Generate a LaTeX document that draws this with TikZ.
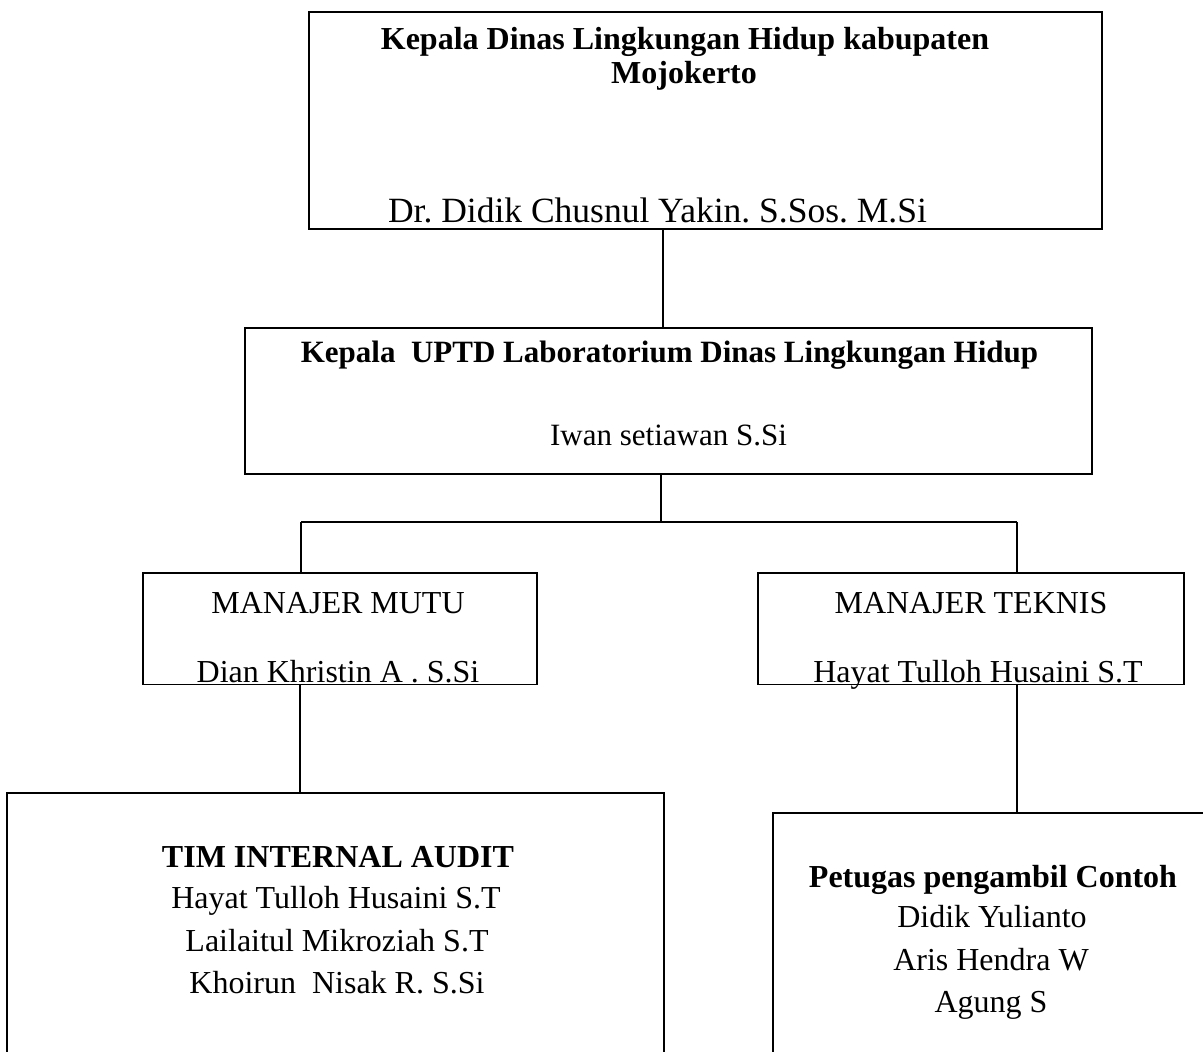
\documentclass[tikz,border=0pt]{standalone}
\usepackage{fontspec}
\setmainfont{Liberation Serif}
\begin{document}
\frenchspacing
\begin{tikzpicture}[x=1pt,y=-1pt]
\tikzset{
  box/.style={draw=black,line width=1.4pt,rectangle,inner sep=0pt},
  conn/.style={draw=black,line width=1.1pt},
  txt/.style={anchor=base,inner sep=0pt,font=\fontsize{32}{38}\selectfont},
  btxt/.style={txt,font=\fontsize{32}{38}\selectfont\bfseries}
}
\clip (0,0) rectangle (1203,1052);
\fill[white] (0,0) rectangle (1203,1052);
% boxes
\node[box,minimum width=793pt,minimum height=217pt] (top) at (705.5,120.5) {};
\node[box,minimum width=847pt,minimum height=146pt] (uptd) at (668.5,401) {};
\node[box,minimum width=394pt,minimum height=111.5pt] (mutu) at (340,628.75) {};
\node[box,minimum width=426pt,minimum height=111.5pt] (teknis) at (971,628.75) {};
\node[box,minimum width=657pt,minimum height=287pt] (tim) at (335.5,936.5) {};
\node[box,minimum width=442pt,minimum height=267pt] (petugas) at (994,946.5) {};
% junction
\coordinate (bus) at (661,522);
% connectors
\draw[conn] (top.south -| 663,0) -- (uptd.north -| 663,0);
\draw[conn] (uptd.south -| bus) -- (bus);
\draw[conn] (bus -| 301,0) -- (bus -| 1017,0);
\draw[conn] (bus -| 301,0) -- (mutu.north -| 301,0);
\draw[conn] (bus -| 1017,0) -- (teknis.north -| 1017,0);
\draw[conn] (mutu.south -| 300,0) -- (tim.north -| 300,0);
\draw[conn] (teknis.south -| 1017,0) -- (petugas.north -| 1017,0);
% texts
\node[btxt] (t1) at (685,49) {Kepala Dinas Lingkungan Hidup kabupaten};
\node[btxt] (t2) at (684,83) {Mojokerto};
\node[txt,font=\fontsize{35.5}{40}\selectfont] (t3) at (657.5,222) {Dr. Didik Chusnul Yakin. S.Sos. M.Si};
\node[btxt,font=\fontsize{31}{36}\selectfont\bfseries] (u1) at (669.5,362) {Kepala~ UPTD Laboratorium Dinas Lingkungan Hidup};
\node[txt,font=\fontsize{31}{36}\selectfont] (u2) at (668.5,445) {Iwan setiawan S.Si};
\node[txt] (m1) at (338,613) {MANAJER MUTU};
\node[txt] (m2) at (338,682) {Dian Khristin A . S.Si};
\node[txt] (k1) at (971,613) {MANAJER TEKNIS};
\node[txt] (k2) at (978,682) {Hayat Tulloh Husaini S.T};
\node[btxt] (a0) at (338,867) {TIM INTERNAL AUDIT};
\node[txt] (a1) at (336,908) {Hayat Tulloh Husaini S.T};
\node[txt] (a2) at (337,951) {Lailaitul Mikroziah S.T};
\node[txt] (a3) at (337,993) {Khoirun~ Nisak R. S.Si};
\node[btxt] (p0) at (993,887) {Petugas pengambil Contoh};
\node[txt] (p1) at (992,927) {Didik Yulianto};
\node[txt] (p2) at (991,970) {Aris Hendra W};
\node[txt] (p3) at (991,1012) {Agung S};
\end{tikzpicture}
\end{document}
